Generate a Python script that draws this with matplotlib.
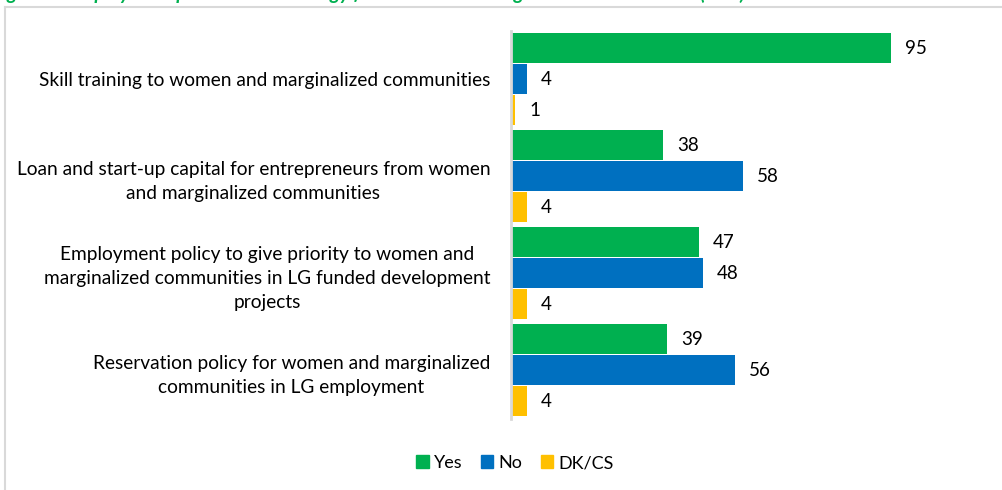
import matplotlib
matplotlib.use("Agg")
import matplotlib.pyplot as plt
from matplotlib.lines import Line2D
import numpy as np

plt.rcParams['font.family'] = ['Lato', 'DejaVu Sans']

categories = [
    "Skill training to women and marginalized communities",
    "Loan and start-up capital for entrepreneurs from women\nand marginalized communities",
    "Employment policy to give priority to women and\nmarginalized communities in LG funded development\nprojects",
    "Reservation policy for women and marginalized\ncommunities in LG employment",
]
series_names = ["Yes", "No", "DK/CS"]
yes_vals = [95, 38, 47, 39]
no_vals = [4, 58, 48, 56]
dkcs_vals = [1, 4, 4, 4]
colors = ["#00B050", "#0070C0", "#FFC000"]
title = "Figure 5: Employment promotional strategy for women and marginalized communities (in %)"

W, H = 1003, 490
fig = plt.figure(figsize=(W / 100, H / 100), dpi=100)

# plot area
left_px, right_px = 511, 911
top_px, bottom_px = 31, 418.6
ax = fig.add_axes([left_px / W, 1 - bottom_px / H,
                   (right_px - left_px) / W, (bottom_px - top_px) / H])

y = np.arange(len(categories))
pitch = 0.32
height = 0.31
values = [yes_vals, no_vals, dkcs_vals]
for i, (name, vals, c) in enumerate(zip(series_names, values, colors)):
    pos = y + (i - 1) * pitch
    bars = ax.barh(pos, vals, height=height, color=c, label=name)
    for b, v in zip(bars, vals):
        ax.text(b.get_width() + 3.5, b.get_y() + b.get_height() / 2, f"{v}",
                va="center", ha="left", fontsize=13.5, color="#000000")

ax.set_xlim(0, 100)
ax.set_ylim(3.5, -0.5)
ax.set_yticks(y)
ax.set_yticklabels(categories, fontsize=13.75, multialignment="center", linespacing=1.5)
ax.tick_params(axis="y", length=0, pad=15)
ax.set_xticks([])
for s in ["top", "right", "bottom"]:
    ax.spines[s].set_visible(False)
ax.spines["left"].set_color("#D9D9D9")
ax.spines["left"].set_linewidth(2)

handles = [plt.Rectangle((0, 0), 1, 1, color=c) for c in colors]
fig.legend(handles, series_names, loc="center", bbox_to_anchor=(515 / W, 1 - 463 / H),
           ncol=3, frameon=False, fontsize=13, handlelength=0.7, handleheight=0.7,
           handletextpad=0.3, columnspacing=1.0)

# chart frame
fig.add_artist(Line2D([5.5 / W, 5.5 / W], [0, 1 - 7 / H], color="#D9D9D9", lw=1.5))
fig.add_artist(Line2D([5.5 / W, 1], [1 - 7.5 / H, 1 - 7.5 / H], color="#D9D9D9", lw=1.5))

# caption above the chart frame
fig.text(-8 / W, 1 + 0.5 / H, title, color="#00B050", fontsize=14, fontweight="bold",
         fontstyle="italic", ha="left", va="baseline")

fig.savefig("out.png", dpi=100)
